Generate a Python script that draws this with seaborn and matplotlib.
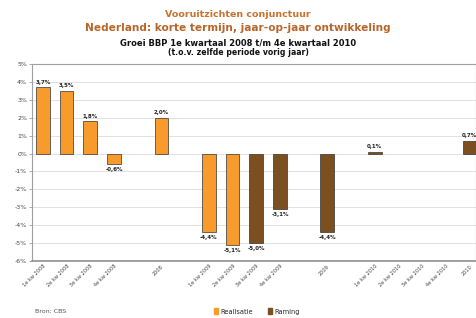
import numpy as np
import pandas as pd
import matplotlib
matplotlib.use("Agg")
import matplotlib.pyplot as plt
import matplotlib.patches as pltpatches
import seaborn as sns

# categories (gaps are empty slots on the axis)
quarters_2008 = ["1e kw 2008", "2e kw 2008", "3e kw 2008", "4e kw 2008"]
quarters_2009 = ["1e kw 2009", "2e kw 2009", "3e kw 2009", "4e kw 2009"]
quarters_2010 = ["1e kw 2010", "2e kw 2010", "3e kw 2010", "4e kw 2010"]
years = ["2008", "2009", "2010"]

values_2008 = [3.7, 3.5, 1.8, -0.6]
values_2009 = [-4.4, -5.1, -5.0, -3.1]
values_2010 = [0.1, np.nan, np.nan, np.nan]
values_years = [2.0, -4.4, 0.7]

types_2008 = ["Realisatie"] * 4
types_2009 = ["Realisatie", "Realisatie", "Raming", "Raming"]
types_2010 = ["Raming"] * 4
types_years = ["Realisatie", "Raming", "Raming"]

order = (quarters_2008 + ["_g1", years[0], "_g2"] + quarters_2009
         + ["_g3", years[1], "_g4"] + quarters_2010 + [years[2]])

df = pd.DataFrame({
    "periode": quarters_2008 + quarters_2009 + quarters_2010 + years,
    "groei": values_2008 + values_2009 + values_2010 + values_years,
    "type": types_2008 + types_2009 + types_2010 + types_years,
})

ORANGE = "#F79B2C"
BROWN = "#7B4F1F"
palette = {"Realisatie": ORANGE, "Raming": BROWN}

sns.set_theme(style="white")
plt.rcParams["font.family"] = ["DejaVu Sans"]

fig = plt.figure(figsize=(4.76, 3.18), dpi=100)
ax = fig.add_axes([32 / 476, 57 / 318, 444 / 476, 197 / 318])

sns.barplot(data=df, x="periode", y="groei", hue="type", order=order,
            palette=palette, saturation=1, dodge=False, width=0.58, legend=False,
            edgecolor="#333333", linewidth=0.5, ax=ax, zorder=3)

ax.set_ylim(-6, 5)
ax.set_xlim(-0.46, 18.27)
ax.set_yticks(range(-6, 6))
ax.set_yticklabels([f"{t}%" for t in range(-6, 6)], fontsize=4.5, color="#444444")
ax.set_xticks(range(len(order)))
ax.set_xticklabels(["" if o.startswith("_") else o for o in order],
                   rotation=45, ha="right", rotation_mode="anchor",
                   fontsize=3.6, color="#444444")
ax.tick_params(axis="y", length=2, width=0.5, pad=1.5, left=True, color="#888888")
ax.tick_params(axis="x", length=0, pad=2)
ax.set_xlabel("")
ax.set_ylabel("")
ax.grid(axis="y", color="#dcdcdc", linewidth=0.6, zorder=0)
for side in ["left", "top", "right"]:
    ax.spines[side].set_color("#a0a0a0")
    ax.spines[side].set_linewidth(0.8)
ax.spines["bottom"].set_color("#909090")
ax.spines["bottom"].set_linewidth(1.2)

# value labels
pos = {name: i for i, name in enumerate(order)}
for _, row in df.dropna().iterrows():
    v = row["groei"]
    txt = f"{v:.1f}%".replace(".", ",")
    off = 0.15 if v >= 0 else -0.15
    ax.text(pos[row["periode"]], v + off, txt, ha="center",
            va="bottom" if v >= 0 else "top", fontsize=4,
            fontweight="bold", color="#222222", zorder=4)

fig.text(0.5, 0.955, "Vooruitzichten conjunctuur", ha="center", va="center",
         fontsize=6.8, fontweight="bold", color="#C8742E")
fig.text(0.5, 0.912, "Nederland: korte termijn, jaar-op-jaar ontwikkeling",
         ha="center", va="center", fontsize=7.6, fontweight="bold", color="#B8652A")
fig.text(0.5, 0.865, "Groei BBP 1e kwartaal 2008 t/m 4e kwartaal 2010",
         ha="center", va="center", fontsize=6, fontweight="bold", color="#111111")
fig.text(0.5, 0.836, "(t.o.v. zelfde periode vorig jaar)",
         ha="center", va="center", fontsize=5.6, fontweight="bold", color="#111111")

fig.text(35 / 476, 0.012, "Bron: CBS", ha="left", va="bottom",
         fontsize=4.5, color="#555555")
handles = [pltpatches.Patch(color=ORANGE, label="Realisatie"),
           pltpatches.Patch(color=BROWN, label="Raming")]
fig.legend(handles=handles, loc="lower center", bbox_to_anchor=(0.54, -0.008),
           ncol=2, frameon=False, fontsize=4.8, handlelength=0.6,
           handleheight=0.9, columnspacing=2.2, handletextpad=0.4)

fig.savefig("out.png", dpi=100)
